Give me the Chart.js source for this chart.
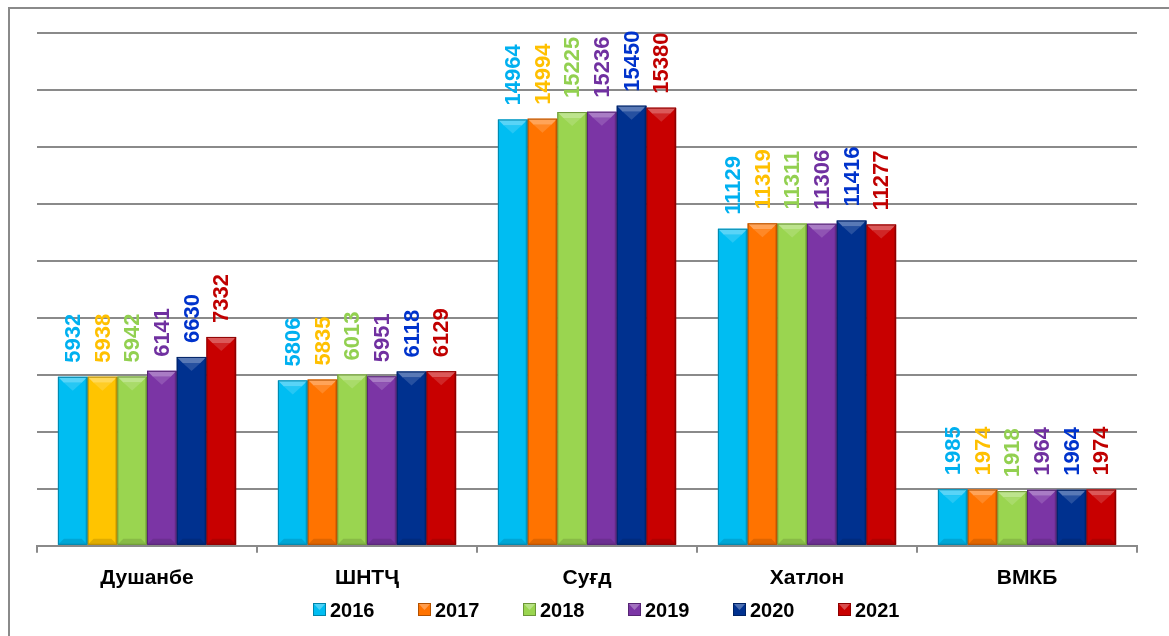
<!DOCTYPE html>
<html>
<head>
<meta charset="utf-8">
<style>
  html, body { margin: 0; padding: 0; background: #ffffff; }
  #wrap { position: relative; width: 1169px; height: 636px; }
</style>
<script src="https://cdn.jsdelivr.net/npm/chart.js@4.4.1/dist/chart.umd.min.js"></script>
</head>
<body>
<div id="wrap"><canvas id="c" width="1169" height="636"></canvas></div>
<script>
const categories = ['Душанбе', 'ШНТҶ', 'Суғд', 'Хатлон', 'ВМКБ'];
const seriesNames = ['2016', '2017', '2018', '2019', '2020', '2021'];
const v2016 = [5932, 5806, 14964, 11129, 1985];
const v2017 = [5938, 5835, 14994, 11319, 1974];
const v2018 = [5942, 6013, 15225, 11311, 1918];
const v2019 = [6141, 5951, 15236, 11306, 1964];
const v2020 = [6630, 6118, 15450, 11416, 1964];
const v2021 = [7332, 6129, 15380, 11277, 1974];
const seriesValues = [v2016, v2017, v2018, v2019, v2020, v2021];

const barColors = ['#00BDF2', '#FF7300', '#9AD550', '#7B35A5', '#00318F', '#C80000'];
const firstGroup2017 = '#FFC400';
const labelColors = ['#00B0F0', '#FFC000', '#92D050', '#7030A0', '#0033CC', '#C00000'];

function hexToRgb(h) {
  const n = parseInt(h.slice(1), 16);
  return [(n >> 16) & 255, (n >> 8) & 255, n & 255];
}
function mix(h, target, t) {
  const c = hexToRgb(h);
  return 'rgb(' + c.map((v, i) => Math.round(v + (target[i] - v) * t)).join(',') + ')';
}
const lighten = (h, t) => mix(h, [255, 255, 255], t);
const darken = (h, t) => mix(h, [0, 0, 0], t);

const datasets = seriesNames.map((name, i) => ({
  label: name,
  data: seriesValues[i],
  backgroundColor: seriesValues[i].map((_, j) => (i === 1 && j === 0) ? firstGroup2017 : barColors[i]),
  borderWidth: 0,
  barPercentage: 1.0,
  categoryPercentage: 0.81,
  labelColor: labelColors[i]
}));

const framePlugin = {
  id: 'frame',
  beforeDraw(chart) {
    const ctx = chart.ctx;
    ctx.save();
    ctx.fillStyle = '#ffffff';
    ctx.fillRect(0, 0, chart.width, chart.height);
    ctx.strokeStyle = '#8a8a8a';
    ctx.lineWidth = 2;
    ctx.beginPath();
    ctx.moveTo(9, chart.height + 2);
    ctx.lineTo(9, 8);
    ctx.lineTo(chart.width + 2, 8);
    ctx.stroke();
    ctx.restore();
  }
};

const bevelPlugin = {
  id: 'bevel',
  afterDatasetsDraw(chart) {
    const ctx = chart.ctx;
    ctx.save();
    chart.data.datasets.forEach((ds, di) => {
      const meta = chart.getDatasetMeta(di);
      meta.data.forEach((bar, j) => {
        const col = Array.isArray(ds.backgroundColor) ? ds.backgroundColor[j] : ds.backgroundColor;
        const l = bar.x - bar.width / 2, r = bar.x + bar.width / 2;
        const t = bar.y, b = bar.base;
        const bv = 6;
        ctx.fillStyle = lighten(col, 0.35);
        ctx.beginPath();
        ctx.moveTo(l, t); ctx.lineTo(r, t); ctx.lineTo(r - bv, t + bv); ctx.lineTo(l + bv, t + bv); ctx.closePath();
        ctx.fill();
        ctx.fillStyle = lighten(col, 0.15);
        ctx.beginPath();
        ctx.moveTo(l + bv, t + bv); ctx.lineTo(r - bv, t + bv); ctx.lineTo(bar.x, t + bv + 8); ctx.closePath();
        ctx.fill();
        ctx.fillStyle = darken(col, 0.12);
        ctx.beginPath();
        ctx.moveTo(l, b); ctx.lineTo(r, b); ctx.lineTo(r - bv, b - bv); ctx.lineTo(l + bv, b - bv); ctx.closePath();
        ctx.fill();
        ctx.fillStyle = darken(col, 0.15);
        ctx.beginPath();
        ctx.moveTo(r, t); ctx.lineTo(r, b); ctx.lineTo(r - 2, b - 2); ctx.lineTo(r - 2, t + 2); ctx.closePath();
        ctx.fill();
        ctx.strokeStyle = darken(col, 0.3);
        ctx.lineWidth = 1;
        ctx.strokeRect(l + 0.5, t + 0.5, bar.width - 1, b - t - 1);
      });
    });
    ctx.restore();
  }
};

const valueLabelPlugin = {
  id: 'valueLabels',
  afterDatasetsDraw(chart) {
    const ctx = chart.ctx;
    ctx.save();
    ctx.font = 'bold 22px "Liberation Sans", Arial, sans-serif';
    ctx.textAlign = 'left';
    ctx.textBaseline = 'middle';
    chart.data.datasets.forEach((ds, di) => {
      const meta = chart.getDatasetMeta(di);
      meta.data.forEach((bar, j) => {
        const txt = String(ds.data[j]);
        ctx.save();
        ctx.translate(bar.x, bar.y - 14);
        ctx.rotate(-Math.PI / 2);
        ctx.fillStyle = ds.labelColor;
        ctx.fillText(txt, 0, 1);
        ctx.restore();
      });
    });
    ctx.restore();
  }
};

const legendPlugin = {
  id: 'customLegend',
  afterDraw(chart) {
    const ctx = chart.ctx;
    ctx.save();
    ctx.font = 'bold 20px "Liberation Sans", Arial, sans-serif';
    ctx.textBaseline = 'middle';
    const y = 610;
    const startX = 313;
    const step = 105;
    chart.data.datasets.forEach((ds, i) => {
      const x = startX + i * step;
      const col = barColors[i];
      ctx.fillStyle = col;
      ctx.fillRect(x, y - 7, 13, 13);
      ctx.fillStyle = lighten(col, 0.3);
      ctx.beginPath();
      ctx.moveTo(x, y - 7); ctx.lineTo(x + 13, y - 7); ctx.lineTo(x + 6.5, y); ctx.closePath();
      ctx.fill();
      ctx.strokeStyle = darken(col, 0.3);
      ctx.lineWidth = 1;
      ctx.strokeRect(x + 0.5, y - 6.5, 12, 12);
      ctx.fillStyle = '#000000';
      ctx.fillText(ds.label, x + 17, y + 1);
    });
    ctx.restore();
  }
};

new Chart(document.getElementById('c'), {
  type: 'bar',
  data: { labels: categories, datasets },
  options: {
    responsive: false,
    animation: false,
    devicePixelRatio: 1,
    layout: { padding: { left: 37, right: 32, top: 33, bottom: 32 } },
    plugins: {
      legend: { display: false },
      tooltip: { enabled: false }
    },
    scales: {
      x: {
        grid: { drawOnChartArea: false, drawTicks: true, tickLength: 7, color: '#8a8a8a', lineWidth: 2, offset: true },
        border: { display: true, color: '#8a8a8a', width: 2 },
        ticks: { color: '#000000', font: { family: '"Liberation Sans", Arial, sans-serif', size: 21, weight: 'bold' }, padding: 13, maxRotation: 0 }
      },
      y: {
        min: 0, max: 18000,
        ticks: { display: false, stepSize: 2000 },
        grid: { color: '#8a8a8a', lineWidth: 2, drawTicks: false },
        border: { display: false }
      }
    }
  },
  plugins: [framePlugin, bevelPlugin, valueLabelPlugin, legendPlugin]
});
</script>
</body>
</html>
